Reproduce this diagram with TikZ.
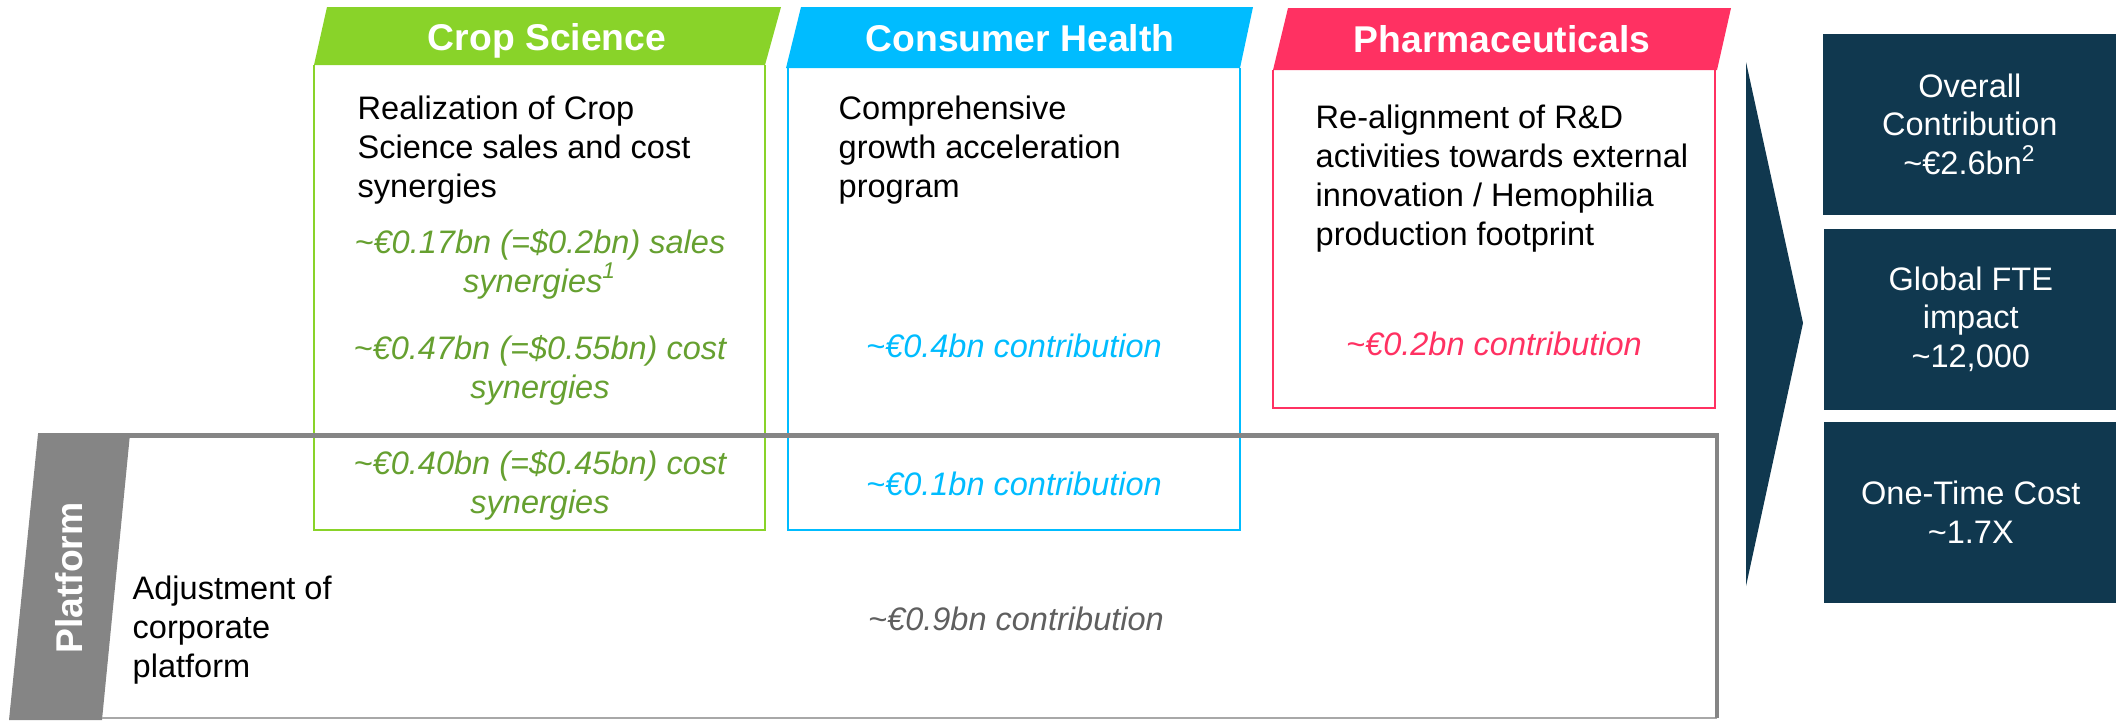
\documentclass[tikz,border=0pt]{standalone}
\usepackage{fontspec}
\setmainfont{Liberation Sans}
\usepackage{xcolor}
\usepackage{tikz}
\definecolor{CropGreen}{HTML}{89D329}
\definecolor{CropText}{HTML}{66A030}
\definecolor{HealthBlue}{HTML}{00BCFF}
\definecolor{PharmaRed}{HTML}{FF3162}
\definecolor{BayerNavy}{HTML}{10384F}
\definecolor{PlatGray}{HTML}{858585}
\definecolor{PlatLight}{HTML}{A8A8A8}
\definecolor{PlatText}{HTML}{5F5F5F}
\tikzset{
  TabStyle/.style={font=\fontsize{10.6}{12}\selectfont\bfseries, text=white, anchor=base, inner sep=0pt},
  BodyStyle/.style={font=\fontsize{9.25}{11}\selectfont, align=left, anchor=base west, inner sep=0pt},
  ValueStyle/.style={font=\fontsize{9.25}{11}\selectfont\itshape, align=center, anchor=base, inner sep=0pt},
  KpiStyle/.style={fill=BayerNavy, text=white, font=\fontsize{9.25}{11}\selectfont, align=center,
    anchor=north west, inner sep=0pt, minimum width=2.94cm, minimum height=1.81cm},
  FrameStyle/.style={line width=0.6pt}
}

\begin{document}
\begin{tikzpicture}[x=0.01cm, y=-0.01cm]
\useasboundingbox (0,0) rectangle (2116,720);
\fill[CropGreen] (314,65) -- (327,7) -- (781,7) -- (765,65) -- cycle;
\fill[HealthBlue] (786,68) -- (801,7) -- (1253,7) -- (1240,68) -- cycle;
\fill[PharmaRed] (1273,70) -- (1288,8) -- (1731,8) -- (1717,70) -- cycle;
\draw[FrameStyle, CropGreen] (314,65) -- (314,530) -- (765,530) -- (765,65);
\draw[FrameStyle, HealthBlue] (788,68) -- (788,530) -- (1240,530) -- (1240,68);
\draw[FrameStyle, PharmaRed] (1273,70) -- (1273,408) -- (1715,408) -- (1715,70);
\fill[PlatGray] (38,434) -- (130,434) -- (102,720) -- (9,720) -- cycle;
\draw[line width=0.8pt, PlatLight] (102,718) -- (1717,718);
\draw[line width=1.2pt, PlatGray] (38,435.5) -- (1717,435.5) -- (1717,718);
\fill[BayerNavy] (1746,62) -- (1803,323) -- (1746,586) -- cycle;

\node[TabStyle] (crop title) at (547,50) {Crop Science};
\node[TabStyle] (health title) at (1020,51) {Consumer Health};
\node[TabStyle] (pharma title) at (1502,52) {Pharmaceuticals};
\node[TabStyle, rotate=90] (platform title) at (82,578) {Platform};

\node[BodyStyle] (crop text) at (357,197) {Realization of Crop\\Science sales and cost\\synergies};
\node[ValueStyle, text=CropText] (crop sales) at (540,292) {\textasciitilde€0.17bn (=\$0.2bn) sales\\synergies\textsuperscript{1}};
\node[ValueStyle, text=CropText] (crop cost) at (540,398) {\textasciitilde€0.47bn (=\$0.55bn) cost\\synergies};
\node[ValueStyle, text=CropText] (crop platform) at (540,513) {\textasciitilde€0.40bn (=\$0.45bn) cost\\synergies};

\node[BodyStyle] (health text) at (838,197) {Comprehensive\\growth acceleration\\program};
\node[ValueStyle, text=HealthBlue] (health value) at (1014,357) {\textasciitilde€0.4bn contribution};
\node[ValueStyle, text=HealthBlue] (health platform) at (1014,495) {\textasciitilde€0.1bn contribution};

\node[BodyStyle] (pharma text) at (1315,245) {Re-alignment of R\&D\\activities towards external\\innovation / Hemophilia\\production footprint};
\node[ValueStyle, text=PharmaRed] (pharma value) at (1494,355) {\textasciitilde€0.2bn contribution};

\node[BodyStyle] (platform text) at (132,677) {Adjustment of\\corporate\\platform};
\node[ValueStyle, text=PlatText] (platform value) at (1016,630) {\textasciitilde€0.9bn contribution};

\node[KpiStyle] (overall) at (1822,33) {Overall\\Contribution\\\textasciitilde€2.6bn\textsuperscript{2}};
\node[KpiStyle] (fte) at (1823,228) {Global FTE\\impact\\\textasciitilde12,000};
\node[KpiStyle] (cost) at (1823,421) {One-Time Cost\\\textasciitilde1.7X};
\end{tikzpicture}
\end{document}
